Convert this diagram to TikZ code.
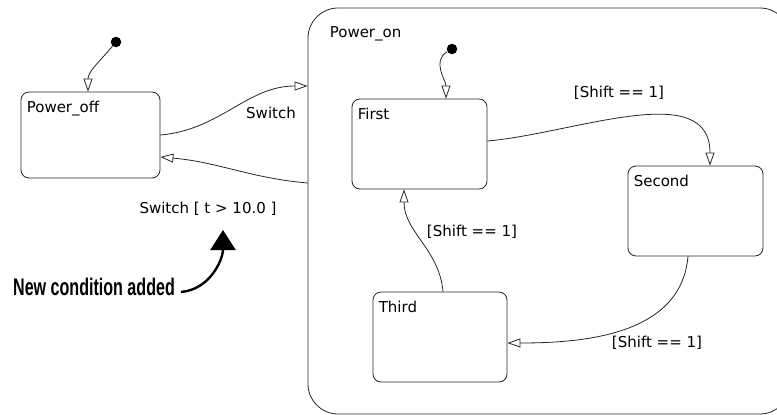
\documentclass[tikz,border=0pt]{standalone}
\usepackage{fontspec}
\setmainfont{DejaVu Sans}
\newfontfamily\notefont{Liberation Sans}
\usetikzlibrary{arrows.meta}

\begin{document}
\begin{tikzpicture}[
  x=1pt, y=-1pt,
  font=\fontsize{15}{18}\selectfont,
  state/.style={
    rectangle,
    draw=black!85,
    line width=0.8pt,
    rounded corners=8pt,
    minimum width=135pt,
    minimum height=90pt
  },
  tag/.style={anchor=north west, inner sep=0pt, xshift=6pt, yshift=-9pt},
  dot/.style={circle, fill=black, inner sep=0pt, minimum size=10.5pt},
  guard/.style={inner sep=1pt},
  trans/.style={draw=black!85, line width=0.8pt, -{Triangle[open, length=13pt, width=9pt]}},
  hint/.style={line width=2.4pt, -{Triangle[length=20pt, width=25pt]}}
]
  \useasboundingbox (0,0) rectangle (777,415);

  % Nodes
  \node (on) [state, rounded corners=30pt, minimum width=482pt, minimum height=406pt,
    label={[anchor=north west, inner sep=0pt, xshift=22pt, yshift=-19pt]north west:Power\_on}]
    at (549,211) {};
  \node (off) [state, minimum width=139pt, minimum height=86pt,
    label={[tag]north west:Power\_off}] at (90.5,135) {};
  \node (first)  [state, label={[tag]north west:First}]  at (419.5,144) {};
  \node (second) [state, label={[tag]north west:Second}] at (695.5,211) {};
  \node (third)  [state, minimum width=134pt, label={[tag]north west:Third}] at (440,337) {};

  \node (dotoff) [dot] at (116,42) {};
  \node (doton)  [dot] at (452,49) {};

  \node (sw)   [guard] at (271,113) {Switch};
  \node (grd)  [guard] at (208,209) {Switch [ t > 10.0 ]};
  \node (g12)  [guard] at (619,93)  {[Shift == 1]};
  \node (g23)  [guard] at (657,343) {[Shift == 1]};
  \node (g31)  [guard] at (472,232) {[Shift == 1]};

  \node (note) [inner sep=0pt] at (94,287)
    {\notefont\bfseries\fontsize{24}{24}\selectfont\scalebox{0.67}[1]{New condition added}};
  \coordinate (tip) at (223,230);

  % Arrows
  \draw [trans] (dotoff) to[out=-130, in=90] ([xshift=-2.5pt]off.north);
  \draw [trans] (off.east) to[out=5, in=180] ([yshift=125pt]on.west);
  \draw [trans] ([yshift=28pt]on.west) to[out=175, in=-5] ([yshift=-22pt]off.east);
  \draw [trans] (doton) to[out=-150, in=90] ([xshift=26.5pt]first.north);
  \draw [trans] ([yshift=3pt]first.east) to[out=5, in=90] ([xshift=14.5pt]second.north);
  \draw [trans] ([xshift=-7.5pt]second.south) to[out=-95, in=0] ([yshift=-6pt]third.east);
  \draw [trans] ([xshift=3pt]third.north) to[out=95, in=-90] ([xshift=-15.5pt]first.south);
  \draw [hint] ([xshift=6pt,yshift=-5pt]note.east) to[out=5, in=-90] (tip);

\end{tikzpicture}
\end{document}
